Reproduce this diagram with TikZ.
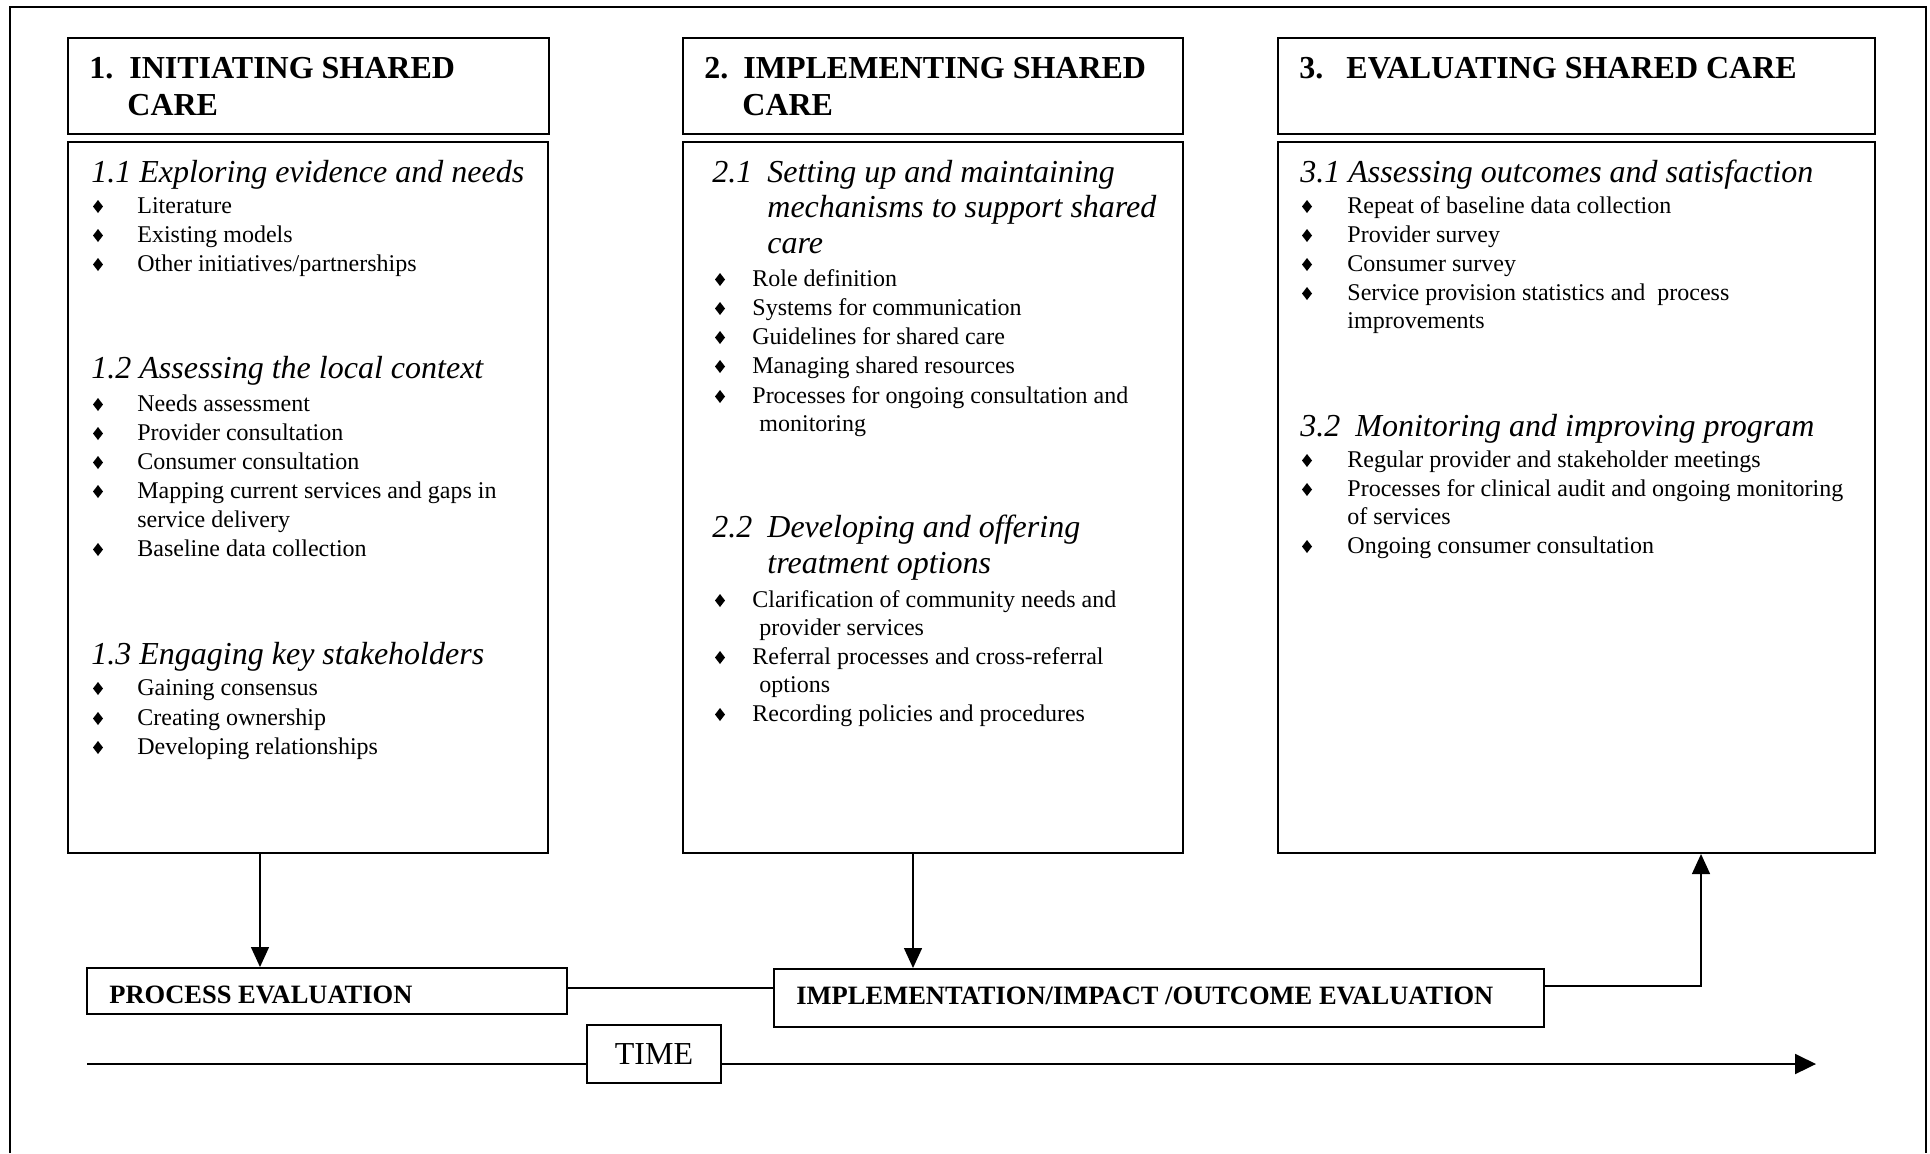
\documentclass[tikz,border=0pt]{standalone}
\usepackage{fontspec}
\setmainfont{Liberation Serif}
\usetikzlibrary{arrows.meta,fit}
\tikzset{
  frame/.style={line width=1pt},
  boxe/.style={draw, line width=1pt, inner sep=0pt},
  body/.style={anchor=base west, inner sep=0pt, font=\fontsize{12}{14}\selectfont},
  subhead/.style={anchor=base west, inner sep=0pt, font=\fontsize{16}{18}\selectfont\itshape},
  title/.style={anchor=base west, inner sep=0pt, font=\fontsize{16}{18}\selectfont\bfseries},
  evallabel/.style={anchor=base west, inner sep=0pt, font=\fontsize{13.25}{15}\selectfont\bfseries},
  conn/.style={line width=0.7pt},
  tip/.style={-{Triangle[length=10pt,width=9pt]}},
}
\newcommand\bdia[2]{\fill (#1,#2-6.5) +(0,-6.5) -- +(5,0) -- +(0,6.5) -- +(-5,0) -- cycle;}
\newcommand\bitem[5]{\bdia{#2}{#4}\node[body] (#1) at (#3,#4) {#5};}
\begin{document}
\begin{tikzpicture}[x=0.5pt,y=-0.5pt]
\useasboundingbox (0,0) rectangle (1930,1153);
\draw[frame] (10,1153) -- (10,7) -- (1926,7) -- (1926,1153);

% boxes
\node[boxe, fit={(68,38) (549,134)}] (h1) {};
\node[boxe, fit={(68,142) (548,853)}] (b1) {};
\node[boxe, fit={(683,38) (1183,134)}] (h2) {};
\node[boxe, fit={(683,142) (1183,853)}] (b2) {};
\node[boxe, fit={(1278,38) (1875,134)}] (h3) {};
\node[boxe, fit={(1278,142) (1875,853)}] (b3) {};
\node[boxe, fit={(87,968) (567,1014)}] (pe) {};
\node[boxe, fit={(774,969) (1544,1027)}] (ie) {};
\node[draw, line width=1pt, minimum width=67pt, minimum height=29pt, inner sep=0pt, font=\fontsize{16}{18}\selectfont] (time) at (654,1054) {TIME};

% titles
\node[title] (t1n) at (89,78) {1.};
\node[title] (t1a) at (129,78) {INITIATING SHARED};
\node[title] (t1b) at (127,115) {CARE};
\node[title] (t2n) at (704,78) {2.};
\node[title] (t2a) at (743,78) {IMPLEMENTING SHARED};
\node[title] (t2b) at (742,115) {CARE};
\node[title] (t3n) at (1299,78) {3.};
\node[title] (t3a) at (1346,78) {EVALUATING SHARED CARE};

% box 1
\node[subhead] (s11) at (91,182) {1.1 Exploring evidence and needs};
\bitem{i111}{98}{137}{213}{Literature}
\bitem{i112}{98}{137}{242}{Existing models}
\bitem{i113}{98}{137}{271}{Other initiatives/partnerships}
\node[subhead] (s12) at (91,378) {1.2 Assessing the local context};
\bitem{i121}{98}{137}{411}{Needs assessment}
\bitem{i122}{98}{137}{440}{Provider consultation}
\bitem{i123}{98}{137}{469}{Consumer consultation}
\bitem{i124}{98}{137}{498}{Mapping current services and gaps in}
\node[body] (i124b) at (137,527) {service delivery};
\bitem{i125}{98}{137}{556}{Baseline data collection}
\node[subhead] (s13) at (91,664) {1.3 Engaging key stakeholders};
\bitem{i131}{98}{137}{695}{Gaining consensus}
\bitem{i132}{98}{137}{725}{Creating ownership}
\bitem{i133}{98}{137}{754}{Developing relationships}

% box 2
\node[subhead] (s21n) at (712,182) {2.1};
\node[subhead] (s21a) at (767,182) {Setting up and maintaining};
\node[subhead] (s21b) at (767,217) {mechanisms to support shared};
\node[subhead] (s21c) at (767,253) {care};
\bitem{i211}{720}{752}{286}{Role definition}
\bitem{i212}{720}{752}{315}{Systems for communication}
\bitem{i213}{720}{752}{344}{Guidelines for shared care}
\bitem{i214}{720}{752}{373}{Managing shared resources}
\bitem{i215}{720}{752}{403}{Processes for ongoing consultation and}
\node[body] (i215b) at (759,431) {monitoring};
\node[subhead] (s22n) at (712,537) {2.2};
\node[subhead] (s22a) at (767,537) {Developing and offering};
\node[subhead] (s22b) at (767,573) {treatment options};
\bitem{i221}{720}{752}{607}{Clarification of community needs and}
\node[body] (i221b) at (759,635) {provider services};
\bitem{i222}{720}{752}{664}{Referral processes and cross-referral}
\node[body] (i222b) at (759,692) {options};
\bitem{i223}{720}{752}{721}{Recording policies and procedures}

% box 3
\node[subhead] (s31) at (1300,182) {3.1 Assessing outcomes and satisfaction};
\bitem{i311}{1307}{1347}{213}{Repeat of baseline data collection}
\bitem{i312}{1307}{1347}{242}{Provider survey}
\bitem{i313}{1307}{1347}{271}{Consumer survey}
\bitem{i314}{1307}{1347}{300}{Service provision statistics and\ \ process}
\node[body] (i314b) at (1347,328) {improvements};
\node[subhead] (s32n) at (1300,436) {3.2};
\node[subhead] (s32a) at (1355,436) {Monitoring and improving program};
\bitem{i321}{1307}{1347}{467}{Regular provider and stakeholder meetings}
\bitem{i322}{1307}{1347}{496}{Processes for clinical audit and ongoing monitoring}
\node[body] (i322b) at (1347,524) {of services};
\bitem{i323}{1307}{1347}{553}{Ongoing consumer consultation}

% evaluation labels
\node[evallabel] (pel) at (109,1003) {PROCESS EVALUATION};
\node[evallabel] (iel) at (796,1004) {IMPLEMENTATION/IMPACT /OUTCOME EVALUATION};

% connectors
\coordinate (a1) at (260,0);
\draw[conn,tip] (b1.south -| a1) -- (pe.north -| a1);
\coordinate (a2) at (913,0);
\draw[conn,tip] (b2.south -| a2) -- (ie.north -| a2);
\coordinate (l1) at (0,988);
\draw[line width=1.1pt] (pe.east |- l1) -- (ie.west |- l1);
\coordinate (r1) at (1701,986);
\draw[conn,tip] (ie.east |- r1) -- (r1) -- (b3.south -| r1);
\coordinate (tl) at (87,1064);
\coordinate (tr) at (1816,1064);
\draw[line width=1pt] (tl) -- (time.west |- tl);
\draw[line width=1pt, -{Triangle[length=10.5pt,width=10pt]}] (time.east |- tl) -- (tr);
\end{tikzpicture}
\end{document}
